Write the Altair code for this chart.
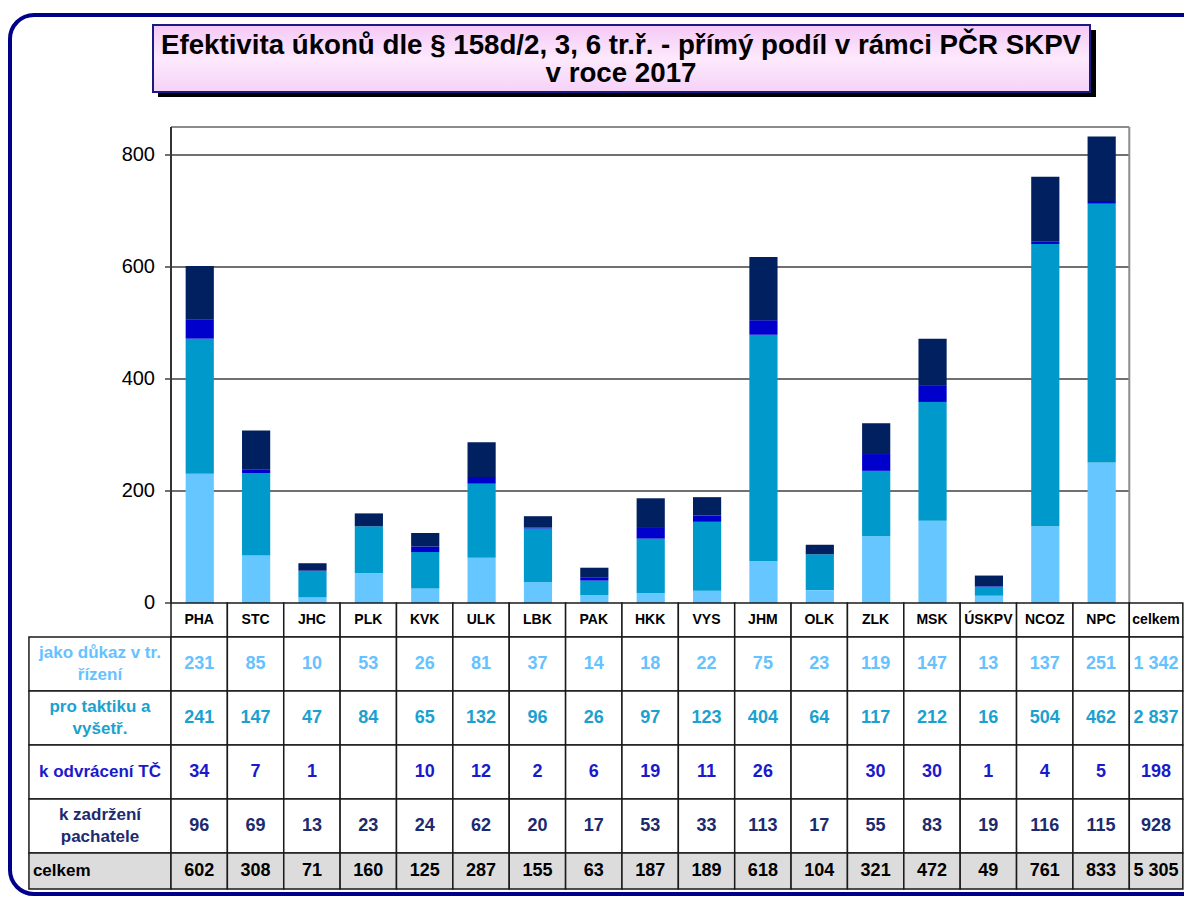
import altair as alt
import pandas as pd

# ---------------- data ----------------
CATEGORIES = ["PHA", "STC", "JHC", "PLK", "KVK", "ULK", "LBK", "PAK", "HKK",
              "VYS", "JHM", "OLK", "ZLK", "MSK", "ÚSKPV", "NCOZ", "NPC"]
SERIES = ["jako důkaz v tr. řízení", "pro taktiku a vyšetř.",
          "k odvrácení TČ", "k zadržení pachatele"]
ROW_LABELS = ["jako důkaz v tr.\nřízení", "pro taktiku a\nvyšetř.",
              "k odvrácení TČ", "k zadržení\npachatele"]
DUKAZ = [231, 85, 10, 53, 26, 81, 37, 14, 18, 22, 75, 23, 119, 147, 13, 137, 251]
TAKTIKA = [241, 147, 47, 84, 65, 132, 96, 26, 97, 123, 404, 64, 117, 212, 16, 504, 462]
ODVRACENI = [34, 7, 1, None, 10, 12, 2, 6, 19, 11, 26, None, 30, 30, 1, 4, 5]
ZADRZENI = [96, 69, 13, 23, 24, 62, 20, 17, 53, 33, 113, 17, 55, 83, 19, 116, 115]
TOTAL_LABEL = "celkem"
Y_TICKS = [0, 200, 400, 600, 800]
TITLE_LINES = ["Efektivita úkonů dle § 158d/2, 3, 6 tr.ř. - přímý podíl v rámci PČR SKPV",
               "v roce 2017"]

# ---------------- styles / layout ----------------
BAR_COLORS = ["#66c6ff", "#0099cc", "#0000cc", "#002060"]
TEXT_COLORS = ["#66c2ff", "#1ba1cf", "#1a1acc", "#1c2a6e"]
FONT = "'Liberation Sans', Arial, sans-serif"

W, H = 1176, 890
U = 56.37            # px per category column
X0 = 163.0           # canvas x of first category column
Y0PX = 595.0         # canvas y of value 0 / table top
PXPER = 0.56         # px per value unit
PLOT_TOP = 850
LABEL_LEFT = -2.52
TOTAL_RIGHT = 17.95
ROW_H = [34, 54, 54, 54, 54, 36]
TICK_LEN = 6.0
LABEL_GAP = 10.0
LINE_H = 22

XDOM = [-X0 / U, (W - X0) / U]
YDOM = [-(H - Y0PX) / PXPER, Y0PX / PXPER]
TDOM = [-Y0PX, H - Y0PX]

xsc = alt.Scale(domain=XDOM, nice=False, zero=False)
ysc = alt.Scale(domain=YDOM, nice=False, zero=False)
tsc = alt.Scale(domain=TDOM, nice=False, zero=False, reverse=True)

series_vals = [DUKAZ, TAKTIKA, ODVRACENI, ZADRZENI]

# ---------------- bars ----------------
bar_rows = []
for i, cat in enumerate(CATEGORIES):
    base = 0
    for s, vals in enumerate(series_vals):
        v = vals[i] or 0
        bar_rows.append(dict(cat=cat, series=SERIES[s], x0=i + 0.26, x1=i + 0.76,
                             lo=base, hi=base + v, color=BAR_COLORS[s]))
        base += v
bars_df = pd.DataFrame(bar_rows)

bars = alt.Chart(bars_df).mark_rect().encode(
    x=alt.X("x0:Q", scale=xsc, axis=None),
    x2="x1:Q",
    y=alt.Y("lo:Q", scale=ysc, axis=None),
    y2="hi:Q",
    fill=alt.Color("color:N", scale=None),
)

grid_df = pd.DataFrame({"v": Y_TICKS[1:], "a": 0, "b": len(CATEGORIES)})
grid = alt.Chart(grid_df).mark_rule(color="#404040", strokeWidth=1.3).encode(
    x=alt.X("a:Q", scale=xsc, axis=None), x2="b:Q",
    y=alt.Y("v:Q", scale=ysc, axis=None))

tick_df = pd.DataFrame({"v": Y_TICKS, "a": -TICK_LEN / U, "b": 0,
                        "lab": [str(t) for t in Y_TICKS]})
ticks = alt.Chart(tick_df).mark_rule(color="#404040", strokeWidth=1.5).encode(
    x=alt.X("a:Q", scale=xsc, axis=None), x2="b:Q",
    y=alt.Y("v:Q", scale=ysc, axis=None))
tick_labels = alt.Chart(tick_df).mark_text(
    font=FONT, fontSize=20, color="#000000", align="right", baseline="middle",
    dx=-(TICK_LEN + LABEL_GAP)).encode(
    x=alt.X("b:Q", scale=xsc, axis=None),
    y=alt.Y("v:Q", scale=ysc, axis=None),
    text="lab:N")

top_df = pd.DataFrame({"v": [PLOT_TOP], "a": [0], "b": [len(CATEGORIES)]})
top_line = alt.Chart(top_df).mark_rule(color="#8c8c8c", strokeWidth=2).encode(
    x=alt.X("a:Q", scale=xsc, axis=None), x2="b:Q",
    y=alt.Y("v:Q", scale=ysc, axis=None))
side_df = pd.DataFrame({"x": [len(CATEGORIES)], "lo": [0], "hi": [PLOT_TOP]})
right_line = alt.Chart(side_df).mark_rule(color="#8c8c8c", strokeWidth=2).encode(
    x=alt.X("x:Q", scale=xsc, axis=None),
    y=alt.Y("lo:Q", scale=ysc, axis=None), y2="hi:Q")
left_df = pd.DataFrame({"x": [0], "lo": [0], "hi": [PLOT_TOP]})
left_line = alt.Chart(left_df).mark_rule(color="#333333", strokeWidth=2).encode(
    x=alt.X("x:Q", scale=xsc, axis=None),
    y=alt.Y("lo:Q", scale=ysc, axis=None), y2="hi:Q")

plot = alt.layer(grid, bars, top_line, right_line, left_line, ticks, tick_labels)

# ---------------- table ----------------
edges = [0]
for h in ROW_H:
    edges.append(edges[-1] + h)

def fmt(v):
    return "" if v is None else f"{v:,}".replace(",", " ")

cells, texts = [], []
col_x = [(i, i + 1) for i in range(len(CATEGORIES))] + [(len(CATEGORIES), TOTAL_RIGHT)]
headers = CATEGORIES + [TOTAL_LABEL]
for c, (a, b) in enumerate(col_x):
    cells.append(dict(x0=a, x1=b, y0=edges[0], y1=edges[1], fill="#ffffff"))
    texts.append(dict(x=(a + b) / 2, y=(edges[0] + edges[1]) / 2, t=headers[c],
                      tc="#000000", kind="head"))
totals_by_cat = [sum((vals[i] or 0) for vals in series_vals) for i in range(len(CATEGORIES))]
for s, vals in enumerate(series_vals):
    r = s + 1
    cells.append(dict(x0=LABEL_LEFT, x1=0, y0=edges[r], y1=edges[r + 1], fill="#ffffff"))
    kind = "label2" if "\n" in ROW_LABELS[s] else "label1"
    texts.append(dict(x=LABEL_LEFT / 2, y=(edges[r] + edges[r + 1]) / 2, t=ROW_LABELS[s],
                      tc=TEXT_COLORS[s], kind=kind))
    row_total = sum(v or 0 for v in vals)
    for c, (a, b) in enumerate(col_x):
        v = vals[c] if c < len(CATEGORIES) else row_total
        cells.append(dict(x0=a, x1=b, y0=edges[r], y1=edges[r + 1], fill="#ffffff"))
        texts.append(dict(x=(a + b) / 2, y=(edges[r] + edges[r + 1]) / 2, t=fmt(v),
                          tc=TEXT_COLORS[s], kind="num"))
r = 5
cells.append(dict(x0=LABEL_LEFT, x1=0, y0=edges[r], y1=edges[r + 1], fill="#dcdcdc"))
texts.append(dict(x=LABEL_LEFT + 0.07, y=(edges[r] + edges[r + 1]) / 2, t=TOTAL_LABEL,
                  tc="#000000", kind="tlabel"))
for c, (a, b) in enumerate(col_x):
    v = totals_by_cat[c] if c < len(CATEGORIES) else sum(totals_by_cat)
    cells.append(dict(x0=a, x1=b, y0=edges[r], y1=edges[r + 1], fill="#dcdcdc"))
    texts.append(dict(x=(a + b) / 2, y=(edges[r] + edges[r + 1]) / 2, t=fmt(v),
                      tc="#000000", kind="num"))

cells_df = pd.DataFrame(cells)
texts_df = pd.DataFrame(texts)

rects = alt.Chart(cells_df).mark_rect(stroke="#1a1a1a", strokeWidth=1.5).encode(
    x=alt.X("x0:Q", scale=xsc, axis=None), x2="x1:Q",
    y=alt.Y("y0:Q", scale=tsc, axis=None), y2="y1:Q",
    fill=alt.Color("fill:N", scale=None))

def text_layer(kind, size, align="center", lines=1):
    kw = dict(font=FONT, fontSize=size, fontWeight="bold", align=align, baseline="middle")
    if lines > 1:
        kw.update(lineBreak="\n", lineHeight=LINE_H, dy=-LINE_H * (lines - 1) / 2)
    return alt.Chart(texts_df).transform_filter(alt.datum.kind == kind).mark_text(**kw).encode(
        x=alt.X("x:Q", scale=xsc, axis=None),
        y=alt.Y("y:Q", scale=tsc, axis=None),
        text="t:N",
        color=alt.Color("tc:N", scale=None))

table = alt.layer(rects,
                  text_layer("head", 14),
                  text_layer("num", 18),
                  text_layer("label1", 17),
                  text_layer("label2", 17, lines=2),
                  text_layer("tlabel", 17, align="left"))

# ---------------- decoration (frame + title box) ----------------
frame = alt.Chart(pd.DataFrame({"k": [0]})).mark_rect(
    fill="transparent", stroke="#000088", strokeWidth=4, cornerRadius=24).encode(
    x=alt.value(2), x2=alt.value(1220), y=alt.value(7), y2=alt.value(886))

shadow = alt.Chart(pd.DataFrame({"k": [0]})).mark_rect(fill="#000000").encode(
    x=alt.value(150), x2=alt.value(1088), y=alt.value(22), y2=alt.value(89))
tbox = alt.Chart(pd.DataFrame({"k": [0]})).mark_rect(
    fill=alt.Gradient(gradient="linear",
                      stops=[alt.GradientStop(color="#f4c8f6", offset=0),
                             alt.GradientStop(color="#fde9fd", offset=0.5),
                             alt.GradientStop(color="#f6d2f8", offset=1)],
                      x1=0, x2=0, y1=0, y2=1),
    stroke="#1a1a80", strokeWidth=2).encode(
    x=alt.value(145), x2=alt.value(1082), y=alt.value(17), y2=alt.value(84))
title_df = pd.DataFrame({"t": TITLE_LINES, "line": [0, 1]})
title1 = alt.Chart(title_df).transform_filter(alt.datum.line == 0).mark_text(
    font=FONT, fontSize=27.7, fontWeight="bold", color="#000000", align="center",
    baseline="alphabetic").encode(x=alt.value(613), y=alt.value(46), text="t:N")
title2 = alt.Chart(title_df).transform_filter(alt.datum.line == 1).mark_text(
    font=FONT, fontSize=27.7, fontWeight="bold", color="#000000", align="center",
    baseline="alphabetic").encode(x=alt.value(613), y=alt.value(74), text="t:N")

deco = alt.layer(frame, shadow, tbox, title1, title2)

chart = alt.layer(deco, plot, table).resolve_scale(y="independent").properties(
    width=W, height=H, autosize="none", padding=0
).configure_view(stroke=None)

chart.save("out.html", embed_options={"renderer": "svg", "actions": False})
